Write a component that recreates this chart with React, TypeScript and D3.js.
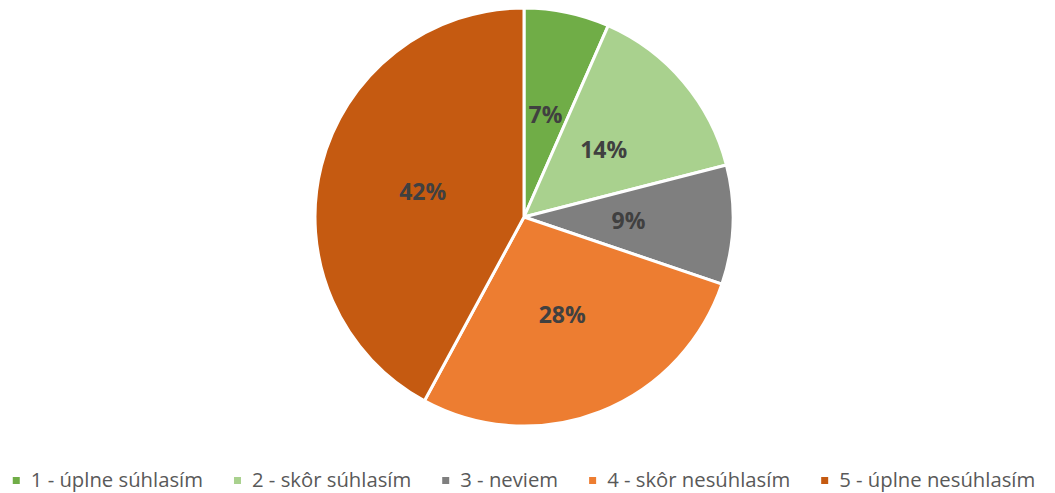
import React, { useEffect, useRef } from 'react';
import * as d3 from 'd3';

const categories = ['1 - úplne súhlasím', '2 - skôr súhlasím', '3 - neviem', '4 - skôr nesúhlasím', '5 - úplne nesúhlasím'];
const shares = [6.6, 14.4, 9.2, 27.7, 42.1];
const colors = ['#70AD47', '#A9D18E', '#7F7F7F', '#ED7D31', '#C55A11'];

const width = 1055;
const height = 493;
const font = '"Open Sans", sans-serif';

const App = () => {
  const svgRef = useRef<SVGSVGElement>(null);

  useEffect(() => {
    const svg = d3.select(svgRef.current);
    svg.selectAll('*').remove();

    const cx = 524;
    const cy = 217;
    const r = 209;

    const data = categories.map((c, i) => ({ name: c, value: shares[i], color: colors[i] }));
    const pie = d3.pie<any>().value(d => d.value).sort(null);
    const arc = d3.arc<any>().innerRadius(0).outerRadius(r);
    const arcs = pie(data);

    const g = svg.append('g').attr('transform', `translate(${cx},${cy})`);
    g.selectAll('path')
      .data(arcs)
      .join('path')
      .attr('d', arc)
      .attr('fill', d => d.data.color)
      .attr('stroke', '#fff')
      .attr('stroke-width', 3)
      .attr('stroke-linejoin', 'round');

    g.selectAll('text')
      .data(arcs)
      .join('text')
      .attr('transform', d => `translate(${arc.centroid(d)})`)
      .attr('text-anchor', 'middle')
      .attr('dy', '0.36em')
      .attr('font-family', font)
      .attr('font-weight', 'bold')
      .attr('font-size', 23)
      .attr('fill', '#404040')
      .text(d => `${Math.round(d.data.value)}%`);

    // legend
    const legend = svg.append('g');
    const items = legend.selectAll('g')
      .data(data)
      .join('g');
    items.append('rect')
      .attr('width', 7)
      .attr('height', 7)
      .attr('y', -10)
      .attr('fill', d => d.color);
    const texts = items.append('text')
      .attr('x', 18)
      .attr('font-family', font)
      .attr('font-size', 20.3)
      .attr('fill', '#595959')
      .text(d => d.name);

    const gap = 31;
    let x = 0;
    const xs: number[] = [];
    texts.each(function () {
      xs.push(x);
      x += 18 + (this as SVGTextElement).getComputedTextLength() + gap;
    });
    const total = x - gap;
    const start = cx - total / 2;
    items.attr('transform', (d, i) => `translate(${start + xs[i]},${487})`);
  }, []);

  return (
    <svg
      ref={svgRef}
      width={width}
      height={height}
      style={{ position: 'absolute', left: 0, top: 0, background: '#fff' }}
    />
  );
};

export default App;
